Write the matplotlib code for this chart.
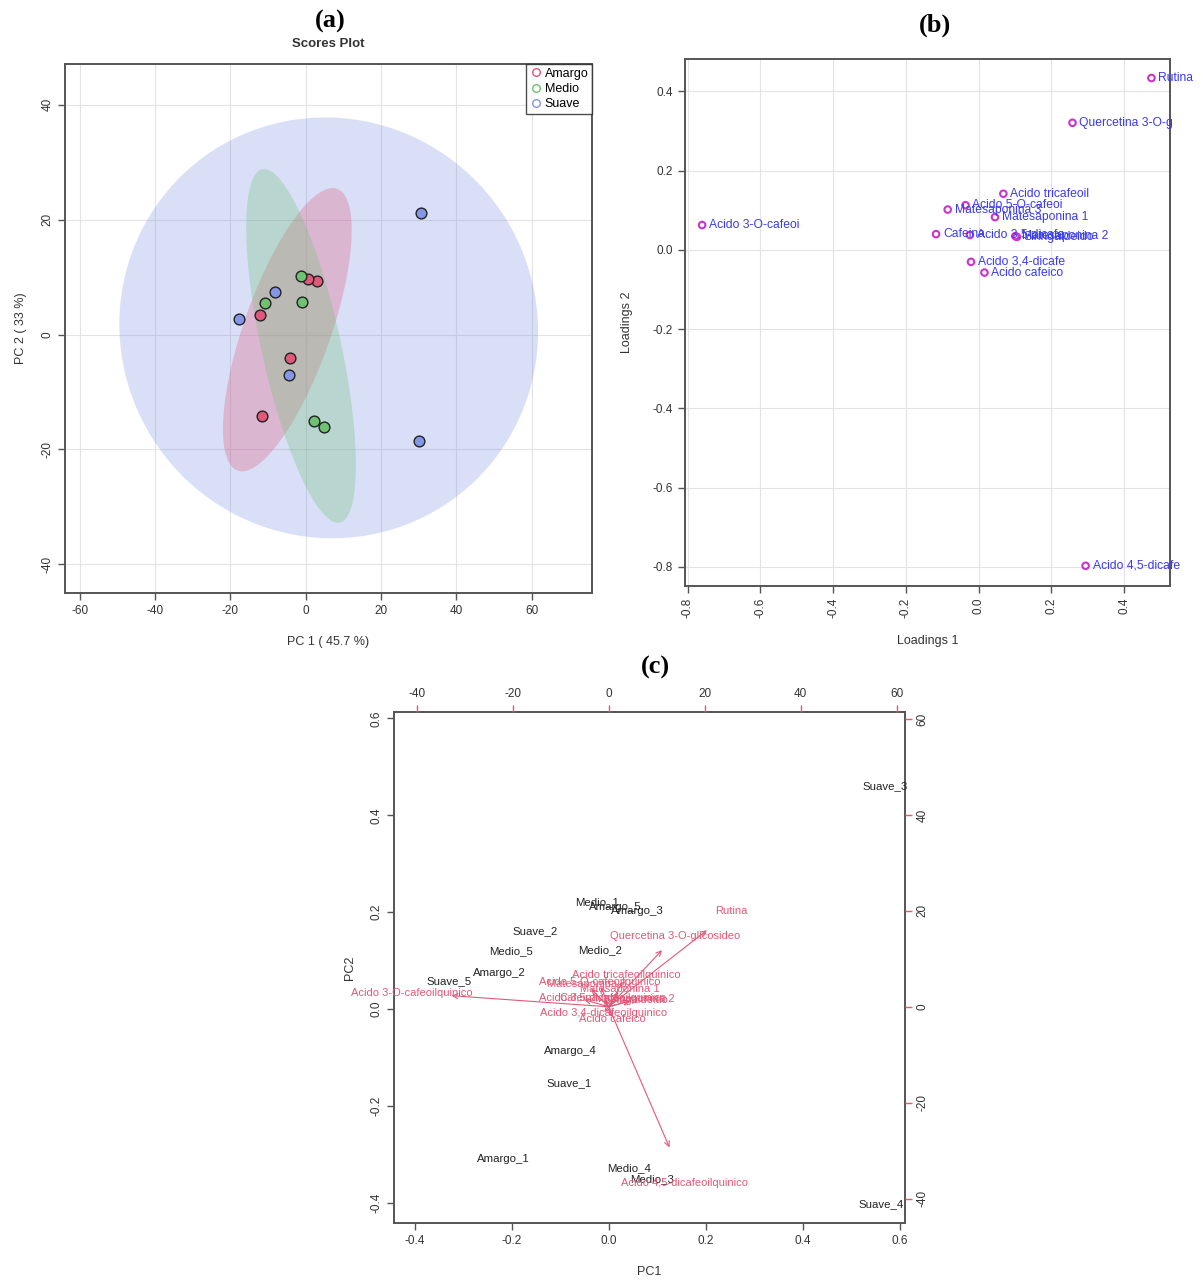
import matplotlib
matplotlib.use('Agg')
import matplotlib.pyplot as plt
import numpy as np
from matplotlib.patches import Ellipse

plt.rcParams['font.family'] = ['Liberation Sans', 'DejaVu Sans']
plt.rcParams['axes.unicode_minus'] = False

# scores (PC1, PC2) for each sample
samples = ['Amargo_1', 'Amargo_2', 'Amargo_3', 'Amargo_4', 'Amargo_5',
           'Medio_1', 'Medio_2', 'Medio_3', 'Medio_4', 'Medio_5',
           'Suave_1', 'Suave_2', 'Suave_3', 'Suave_4', 'Suave_5']
pc1 = [-11.7, -12.2, 3.1, -4.3, 0.7,
       -1.3, -1.0, 4.8, 2.2, -10.9,
       -4.4, -8.2, 30.6, 30.2, -17.7]
pc2 = [-14.2, 3.4, 9.3, -4.0, 9.7,
       10.2, 5.6, -16.1, -15.1, 5.5,
       -7.0, 7.4, 21.2, -18.5, 2.7]
groups = ['Amargo', 'Medio', 'Suave']
group_colors = {'Amargo': '#E0587A', 'Medio': '#6FC173', 'Suave': '#8496E6'}

# loadings
var_names = ['Acido 3-O-cafeoilquinico', 'Acido 5-O-cafeoilquinico',
             'Acido 3,4-dicafeoilquinico', 'Acido 3,5-dicafeoilquinico',
             'Acido 4,5-dicafeoilquinico', 'Acido tricafeoilquinico',
             'Acido cafeico', 'Cafeina', 'Matesaponina 1', 'Matesaponina 2',
             'Matesaponina 3', 'Quercetina 3-O-glicosideo', 'Rutina',
             'Siringaldeido']
load1 = [-0.760, -0.036, -0.021, -0.024, 0.294, 0.068, 0.016, -0.117,
         0.045, 0.101, -0.085, 0.258, 0.475, 0.105]
load2 = [0.063, 0.113, -0.030, 0.038, -0.797, 0.142, -0.057, 0.040,
         0.083, 0.035, 0.102, 0.321, 0.434, 0.033]

# biplot scaling (sdev * sqrt(n))
lam = (53.8, 46.0)

W, H = 1203, 1284
fig = plt.figure(figsize=(W / 100, H / 100), dpi=100)


def rect(x0, y0, x1, y1):
    return [x0 / W, 1 - y1 / H, (x1 - x0) / W, (y1 - y0) / H]


def fmt(vals):
    return ['%.1f' % (round(v, 1) + 0.0) for v in vals]


frame_col = '#555555'
txt_col = '#333333'


def style(ax):
    for s in ax.spines.values():
        s.set_color(frame_col)
        s.set_linewidth(1.4)
    ax.tick_params(colors=frame_col, labelcolor=txt_col, labelsize=8.5,
                   length=5, width=1)


# ---------------- (a) scores plot ----------------
ax = fig.add_axes(rect(65, 64, 592, 593))
style(ax)
x = np.array(pc1)
y = np.array(pc2)
g = np.array([s.split('_')[0] for s in samples])
for grp in ['Suave', 'Amargo', 'Medio']:
    m = g == grp
    pts = np.column_stack([x[m], y[m]])
    cov = np.cov(pts, rowvar=False)
    vals, vecs = np.linalg.eigh(cov)
    ang = np.degrees(np.arctan2(vecs[1, 1], vecs[0, 1]))
    k = np.sqrt(5.991)
    e = Ellipse(pts.mean(axis=0), 2 * k * np.sqrt(vals[1]), 2 * k * np.sqrt(vals[0]),
                angle=ang, facecolor=group_colors[grp], alpha=0.3,
                edgecolor='none', zorder=1)
    ax.add_patch(e)
for grp in groups:
    m = g == grp
    ax.scatter(x[m], y[m], s=60, color=group_colors[grp], edgecolor='#222222',
               linewidth=1.0, zorder=3)
    ax.plot([], [], 'o', mfc='none', mec=group_colors[grp], ms=5.5, mew=1,
            label=grp)
ax.set_xlim(-63.9, 76.0)
ax.set_ylim(-45.0, 47.1)
ax.set_xticks(range(-60, 61, 20))
ax.set_yticks(range(-40, 41, 20))
ax.grid(color='#E3E3E3', lw=0.8)
ax.set_axisbelow(True)
for t in ax.get_yticklabels():
    t.set_rotation(90)
    t.set_va('center')
ax.set_xlabel('PC 1 ( 45.7 %)', fontsize=9, color=txt_col, labelpad=14)
ax.set_ylabel('PC 2 ( 33 %)', fontsize=9, color=txt_col, labelpad=10)
leg = ax.legend(loc='upper right', fontsize=9, frameon=True, fancybox=False,
                borderaxespad=0, handletextpad=0.2, handlelength=1.0,
                labelspacing=0.25, borderpad=0.3)
leg.get_frame().set_edgecolor('#222222')
leg.get_frame().set_linewidth(1.0)
ax.set_title('Scores Plot', fontsize=9.5, fontweight='bold', color=txt_col, pad=12)
fig.text(330 / W, 1 - 21 / H, '(a)', ha='center', va='center', fontsize=19,
         fontweight='bold', family='Liberation Serif')

# ---------------- (b) loadings plot ----------------
ax = fig.add_axes(rect(685, 59, 1170, 586))
style(ax)
ax.scatter(load1, load2, s=22, facecolor='none', edgecolor='#CC33CC',
           linewidth=1.5, zorder=3)
for n, a, b in zip(var_names, load1, load2):
    ax.annotate(n[:16], (a, b), xytext=(5, 0), textcoords='offset points',
                va='center', ha='left', fontsize=8.7, color='#3A3AF0', zorder=4)
ticks_b = np.arange(-0.8, 0.41, 0.2)
ax.set_xlim(-0.807, 0.526)
ax.set_ylim(-0.848, 0.482)
ax.set_xticks(ticks_b)
ax.set_yticks(ticks_b)
ax.set_xticklabels(fmt(ticks_b), rotation=90)
ax.set_yticklabels(fmt(ticks_b))
ax.grid(color='#E3E3E3', lw=0.8)
ax.set_axisbelow(True)
ax.set_xlabel('Loadings 1', fontsize=9, color=txt_col, labelpad=12)
ax.set_ylabel('Loadings 2', fontsize=9, color=txt_col, labelpad=14)
fig.text(935 / W, 1 - 25 / H, '(b)', ha='center', va='center', fontsize=19,
         fontweight='bold', family='Liberation Serif')

# ---------------- (c) biplot ----------------
red = '#E05A78'
box = rect(394, 712, 904.5, 1223)
ax = fig.add_axes(box)
style(ax)
for n, a, b in zip(samples, pc1, pc2):
    ax.text(a / lam[0], b / lam[1], n, ha='center', va='center', fontsize=8.2,
            color='#222222')
ticks_c = np.arange(-0.4, 0.61, 0.2)
ax.set_xlim(-0.443, 0.609)
ax.set_ylim(-0.441, 0.613)
ax.set_xticks(ticks_c)
ax.set_yticks(ticks_c)
ax.set_xticklabels(fmt(ticks_c))
ax.set_yticklabels(fmt(ticks_c), rotation=90, va='center')
ax.set_xlabel('PC1', fontsize=9, color=txt_col, labelpad=14)
ax.set_ylabel('PC2', fontsize=9, color=txt_col, labelpad=10)

ax2 = fig.add_axes(box)
ax2.patch.set_visible(False)
for s in ax2.spines.values():
    s.set_visible(False)
ax2.xaxis.tick_top()
ax2.yaxis.tick_right()
ax2.tick_params(colors=red, labelcolor=txt_col, labelsize=8.5, length=5, width=1)
ax2.set_xlim(-44.7, 61.6)
ax2.set_ylim(-45.1, 61.5)
ax2.set_xticks(range(-40, 61, 20))
ax2.set_yticks(range(-40, 61, 20))
for t in ax2.get_yticklabels():
    t.set_rotation(90)
    t.set_va('center')
for n, a, b in zip(var_names, load1, load2):
    vx, vy = a * lam[0], b * lam[1]
    ax2.annotate('', xy=(0.8 * vx, 0.8 * vy), xytext=(0, 0),
                 arrowprops=dict(arrowstyle='->', color=red, lw=0.8,
                                 mutation_scale=9, shrinkA=0, shrinkB=0))
    ax2.text(vx, vy, n, ha='center', va='center', fontsize=8.0, color=red)
fig.text(655 / W, 1 - 667 / H, '(c)', ha='center', va='center', fontsize=19,
         fontweight='bold', family='Liberation Serif')

fig.savefig('out.png', dpi=100)
